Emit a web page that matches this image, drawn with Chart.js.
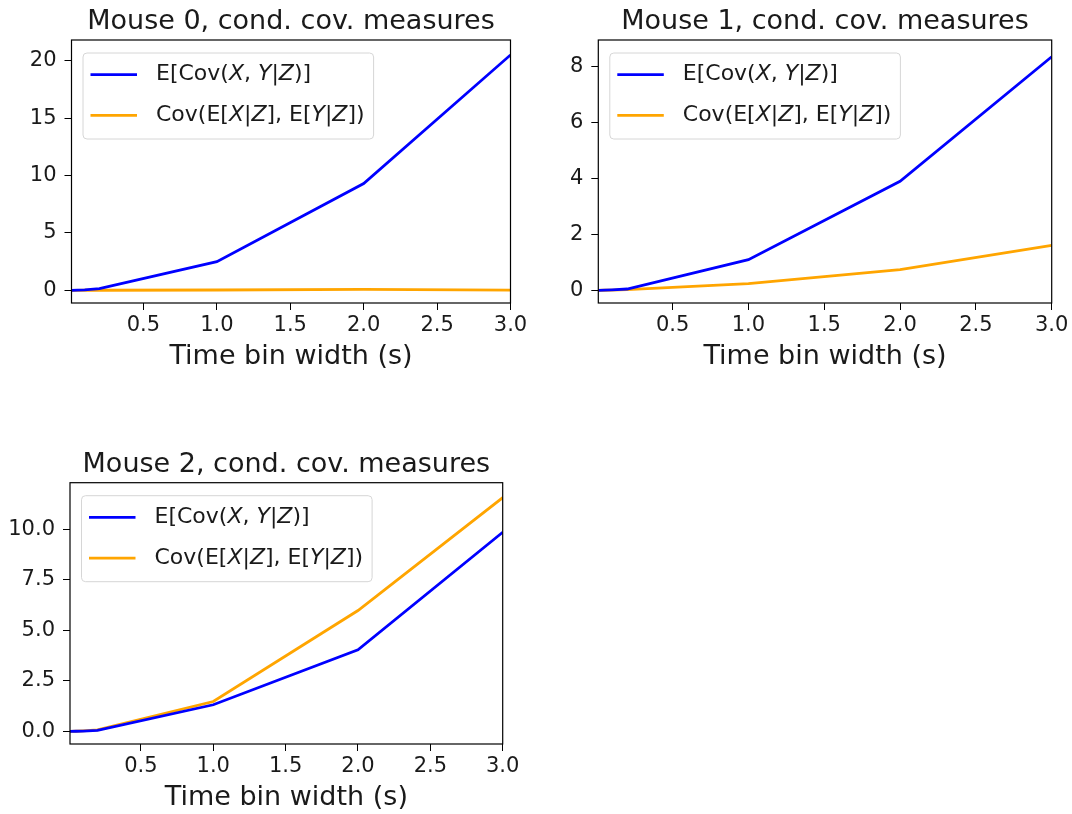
<!DOCTYPE html>
<html>
<head>
<meta charset="utf-8">
<title>Conditional covariance measures</title>
<script src="https://cdn.jsdelivr.net/npm/chart.js@4.4.1/dist/chart.umd.min.js"></script>
<style>
  html, body { margin: 0; padding: 0; background: #ffffff; overflow: hidden; }
  body { position: relative; width: 1072px; height: 814px; }
  canvas { position: absolute; }
</style>
</head>
<body>
<canvas id="mouse0" width="536" height="373" style="left:0px;top:0px"></canvas>
<canvas id="mouse1" width="532" height="373" style="left:540px;top:0px"></canvas>
<canvas id="mouse2" width="536" height="372" style="left:0px;top:442px"></canvas>
<script>
// Time bin widths (seconds) at which the measures were computed
const binWidths = [0.01, 0.05, 0.1, 0.2, 1, 2, 3];

// E[Cov(X, Y|Z)] per mouse
const mouse0Within = [0.0, 0.02, 0.05, 0.15, 2.5, 9.3, 20.5];
const mouse1Within = [0.0, 0.01, 0.02, 0.05, 1.1, 3.9, 8.35];
const mouse2Within = [0.0, 0.01, 0.02, 0.05, 1.32, 4.04, 9.85];

// Cov(E[X|Z], E[Y|Z]) per mouse
const mouse0Between = [0.0, 0.0, 0.01, 0.01, 0.03, 0.08, 0.02];
const mouse1Between = [0.0, 0.005, 0.01, 0.03, 0.24, 0.74, 1.61];
const mouse2Between = [0.0, 0.01, 0.03, 0.08, 1.48, 5.98, 11.56];

const seriesLabels = ['E[Cov(X, Y|Z)]', 'Cov(E[X|Z], E[Y|Z])'];
const seriesColors = ['#0000ff', '#ffa500'];
const panelTitles = ['Mouse 0, cond. cov. measures', 'Mouse 1, cond. cov. measures', 'Mouse 2, cond. cov. measures'];
const xAxisTitle = 'Time bin width (s)';

// Tick labels
const xTickLabels = ['0.5', '1.0', '1.5', '2.0', '2.5', '3.0'];
const yTickLabels0 = ['0', '5', '10', '15', '20'];
const yTickLabels1 = ['0', '2', '4', '6', '8'];
const yTickLabels2 = ['0.0', '2.5', '5.0', '7.5', '10.0'];

const FONT = '"DejaVu Sans", "Liberation Sans", sans-serif';
const TEXT = '#1a1a1a';

// Frame around the plotting area (all four spines)
const framePlugin = {
  id: 'frame',
  afterDatasetsDraw(chart) {
    const { ctx, chartArea: a } = chart;
    ctx.save();
    ctx.strokeStyle = '#000000';
    ctx.lineWidth = 1.2;
    ctx.strokeRect(a.left, a.top, a.right - a.left, a.bottom - a.top);
    ctx.restore();
  }
};

// Panel title centred over the plotting area
const axesTitle = {
  id: 'axesTitle',
  afterDraw(chart, args, opts) {
    const { ctx, chartArea: a } = chart;
    ctx.save();
    ctx.font = opts.fontSize + 'px ' + FONT;
    ctx.fillStyle = TEXT;
    ctx.textAlign = 'center';
    ctx.textBaseline = 'alphabetic';
    ctx.fillText(opts.text, (a.left + a.right) / 2, a.top - 11);
    ctx.restore();
  }
};

// Legend whose variable letters are set in italics
const mathLegend = {
  id: 'mathLegend',
  afterDraw(chart, args, opts) {
    const { ctx, chartArea: a } = chart;
    const size = opts.fontSize || 21;
    const isVar = ch => ch === 'X' || ch === 'Y' || ch === 'Z';
    const fontFor = ch => (isVar(ch) ? 'italic ' : '') + size + 'px ' + FONT;
    const measure = text => {
      let w = 0;
      for (const ch of text) { ctx.font = fontFor(ch); w += ctx.measureText(ch).width; }
      return w;
    };
    const items = chart.data.datasets.map(ds => ({ text: ds.label, color: ds.borderColor }));
    ctx.save();
    const maxW = Math.max(...items.map(it => measure(it.text)));
    const x0 = a.left + 11.5, y0 = a.top + 13;
    const w = 73 + maxW + 9, h = 86, r = 4;
    ctx.beginPath();
    ctx.moveTo(x0 + r, y0);
    ctx.lineTo(x0 + w - r, y0); ctx.arcTo(x0 + w, y0, x0 + w, y0 + r, r);
    ctx.lineTo(x0 + w, y0 + h - r); ctx.arcTo(x0 + w, y0 + h, x0 + w - r, y0 + h, r);
    ctx.lineTo(x0 + r, y0 + h); ctx.arcTo(x0, y0 + h, x0, y0 + h - r, r);
    ctx.lineTo(x0, y0 + r); ctx.arcTo(x0, y0, x0 + r, y0, r);
    ctx.closePath();
    ctx.fillStyle = 'rgba(255,255,255,0.8)';
    ctx.fill();
    ctx.strokeStyle = '#d6d6d6';
    ctx.lineWidth = 1;
    ctx.stroke();
    items.forEach((it, i) => {
      const cy = y0 + 21.7 + i * 40.7;
      ctx.beginPath();
      ctx.moveTo(x0 + 7.5, cy);
      ctx.lineTo(x0 + 54, cy);
      ctx.strokeStyle = it.color;
      ctx.lineWidth = 2.8;
      ctx.stroke();
      let tx = x0 + 73;
      ctx.fillStyle = TEXT;
      ctx.textBaseline = 'middle';
      ctx.textAlign = 'left';
      for (const ch of it.text) {
        ctx.font = fontFor(ch);
        ctx.fillText(ch, tx, cy);
        tx += ctx.measureText(ch).width;
      }
    });
    ctx.restore();
  }
};

function makePanel(canvasId, title, within, between, yTickLabels, yMin, yMax, yAxisWidth, pad) {
  const yTickValues = yTickLabels.map(Number);
  const xTickValues = xTickLabels.map(Number);
  const toPoints = vals => binWidths.map((x, i) => ({ x: x, y: vals[i] }));
  return new Chart(document.getElementById(canvasId), {
    type: 'line',
    data: {
      datasets: [
        { label: seriesLabels[0], data: toPoints(within), borderColor: seriesColors[0], backgroundColor: seriesColors[0],
          borderWidth: 2.8, pointRadius: 0, tension: 0, fill: false },
        { label: seriesLabels[1], data: toPoints(between), borderColor: seriesColors[1], backgroundColor: seriesColors[1],
          borderWidth: 2.8, pointRadius: 0, tension: 0, fill: false }
      ]
    },
    options: {
      responsive: false,
      animation: false,
      devicePixelRatio: 1,
      layout: { padding: pad },
      plugins: {
        legend: { display: false },
        tooltip: { enabled: false },
        title: { display: false },
        axesTitle: { text: title, fontSize: 27 },
        mathLegend: { fontSize: 22 }
      },
      scales: {
        x: {
          type: 'linear', min: binWidths[0], max: binWidths[binWidths.length - 1],
          grid: { drawOnChartArea: false, drawTicks: true, tickLength: 7, color: '#000000', lineWidth: 1 },
          border: { display: false },
          afterBuildTicks: s => { s.ticks = xTickValues.map(v => ({ value: v })); },
          afterFit: s => { s.height = 70; },
          ticks: {
            autoSkip: false, maxRotation: 0, padding: 3, color: TEXT,
            font: { family: FONT, size: 21 },
            callback: v => xTickLabels[xTickValues.indexOf(v)]
          },
          title: {
            display: true, text: xAxisTitle, color: TEXT,
            font: { family: FONT, size: 27, lineHeight: 1.2 },
            padding: { top: 0, bottom: 0 }
          }
        },
        y: {
          type: 'linear', min: yMin, max: yMax,
          grid: { drawOnChartArea: false, drawTicks: true, tickLength: 7, color: '#000000', lineWidth: 1 },
          border: { display: false },
          afterBuildTicks: s => { s.ticks = yTickValues.map(v => ({ value: v })); },
          afterFit: s => { s.width = yAxisWidth; },
          ticks: {
            autoSkip: false, padding: 8, color: TEXT,
            font: { family: FONT, size: 21 },
            callback: v => yTickLabels[yTickValues.indexOf(v)]
          }
        }
      }
    },
    plugins: [framePlugin, axesTitle, mathLegend]
  });
}

makePanel('mouse0', panelTitles[0], mouse0Within, mouse0Between, yTickLabels0, -1.1, 21.8, 71.5,
  { top: 40, left: 0, right: 25.5, bottom: 0 });
makePanel('mouse1', panelTitles[1], mouse1Within, mouse1Between, yTickLabels1, -0.45, 8.95, 58.3,
  { top: 40, left: 0, right: 20.3, bottom: 0 });
makePanel('mouse2', panelTitles[2], mouse2Within, mouse2Between, yTickLabels2, -0.62, 12.3, 70,
  { top: 40.7, left: 0, right: 33.3, bottom: 0 });
</script>
</body>
</html>
